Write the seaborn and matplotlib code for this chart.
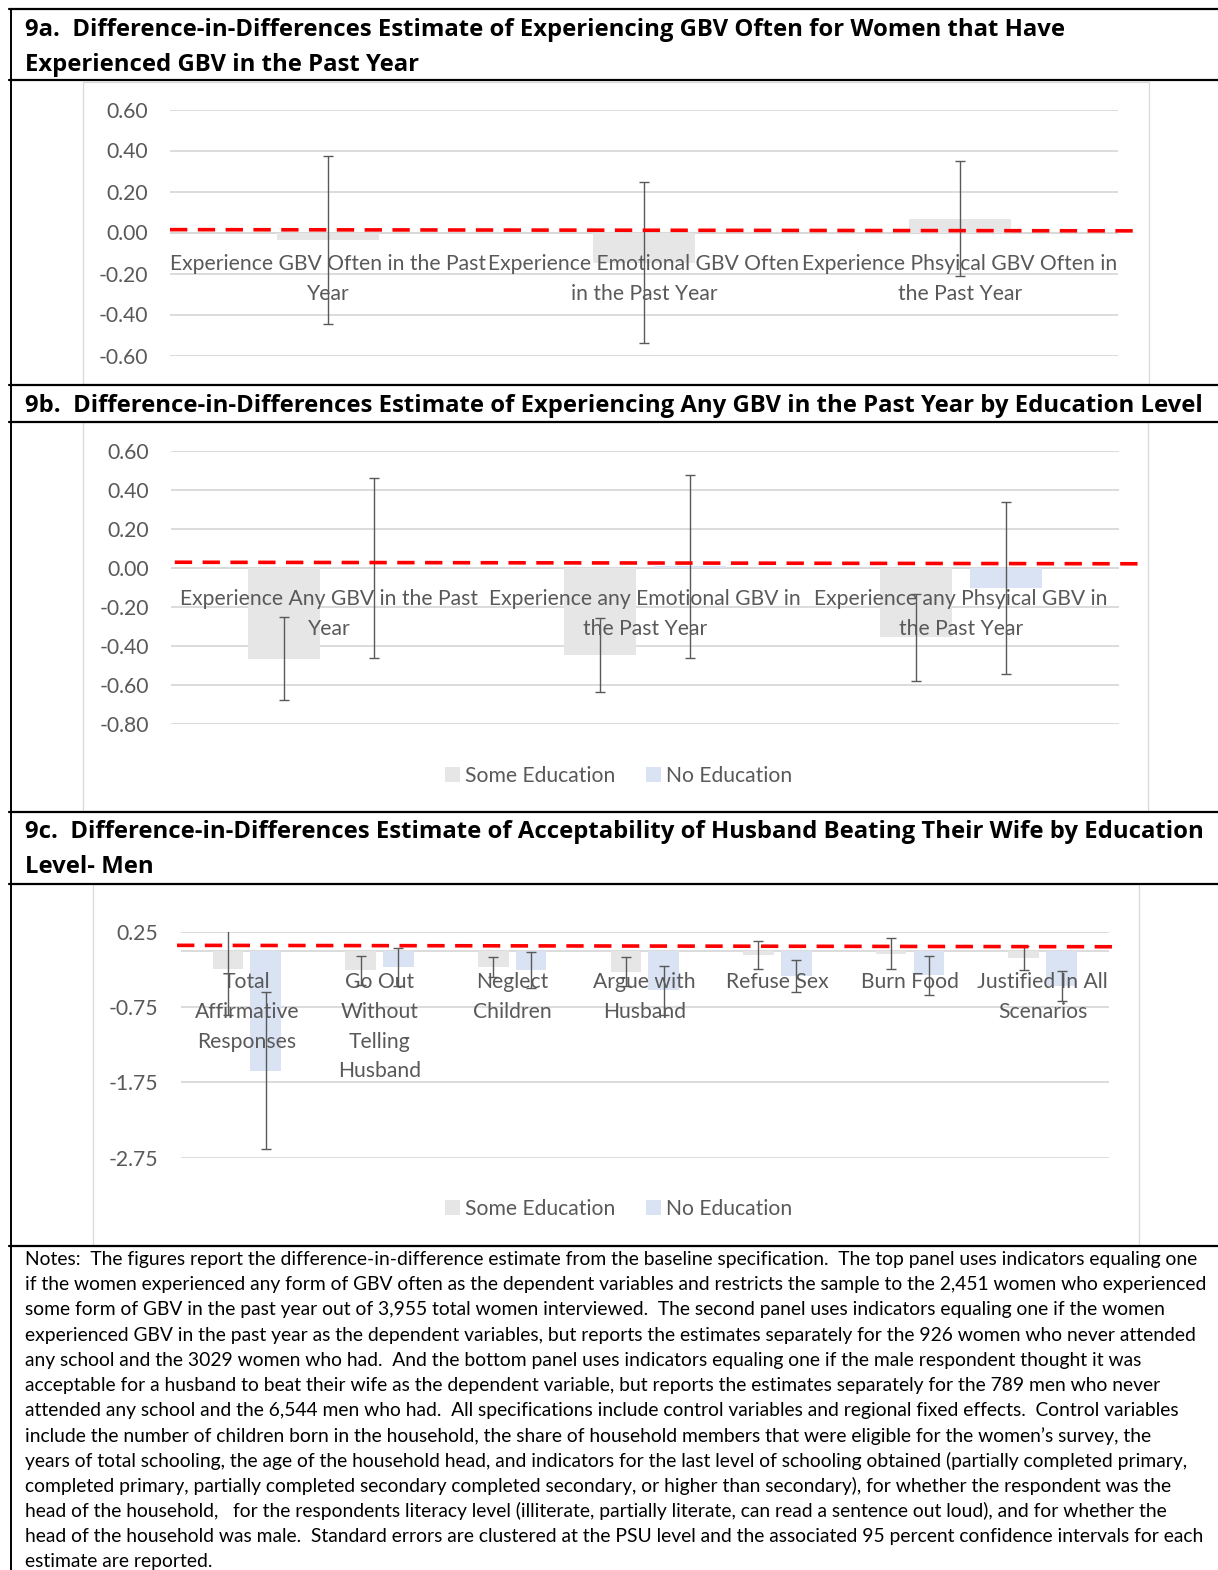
import numpy as np
import pandas as pd
import matplotlib
matplotlib.use("Agg")
import matplotlib.pyplot as plt
from matplotlib.patches import Rectangle
from matplotlib.lines import Line2D
import seaborn as sns

# ---------------------------------------------------------------- data
edu_levels = ["Some Education", "No Education"]

# 9a: GBV often, women who experienced GBV in the past year
cats_a = ["Experience GBV Often in the Past\nYear",
          "Experience Emotional GBV Often\nin the Past Year",
          "Experience Phsyical GBV Often in\nthe Past Year"]
est_a = [-0.036, -0.147, 0.068]
lo_a = [-0.445, -0.539, -0.212]
hi_a = [0.372, 0.245, 0.347]
ref_a_x = [-0.5, 2.554]
ref_a_y = [0.014, 0.008]

# 9b: any GBV in the past year by education level
cats_b = ["Experience Any GBV in the Past\nYear",
          "Experience any Emotional GBV in\nthe Past Year",
          "Experience any Phsyical GBV in\nthe Past Year"]
some_b = [-0.467, -0.449, -0.358]
some_lo_b = [-0.678, -0.636, -0.580]
some_hi_b = [-0.256, -0.260, -0.134]
none_b = [-0.002, 0.006, -0.104]
none_lo_b = [-0.462, -0.466, -0.546]
none_hi_b = [0.458, 0.474, 0.338]
ref_b_x = [-0.488, 2.568]
ref_b_y = [0.027, 0.019]

# 9c: acceptability of wife beating by education level, men
cats_c = ["Total\nAffirmative\nResponses", "Go Out\nWithout\nTelling\nHusband",
          "Neglect\nChildren", "Argue with\nHusband", "Refuse Sex", "Burn Food",
          "Justified In All\nScenarios"]
some_c = [-0.245, -0.260, -0.223, -0.280, -0.065, -0.045, -0.100]
some_lo_c = [-0.856, -0.458, -0.356, -0.471, -0.250, -0.250, -0.259]
some_hi_c = [0.370, -0.066, -0.090, -0.086, 0.126, 0.162, 0.064]
none_c = [-1.600, -0.220, -0.260, -0.528, -0.337, -0.330, -0.471]
none_lo_c = [-2.640, -0.471, -0.500, -0.856, -0.547, -0.587, -0.666]
none_hi_c = [-0.555, 0.033, -0.020, -0.200, -0.126, -0.073, -0.276]
ref_c_x = [-0.526, 6.58]
ref_c_y = [0.069, 0.050]

ticks_a = [0.6, 0.4, 0.2, 0.0, -0.2, -0.4, -0.6]
ticklabels_a = ["0.60", "0.40", "0.20", "0.00", "-0.20", "-0.40", "-0.60"]
ticks_b = [0.6, 0.4, 0.2, 0.0, -0.2, -0.4, -0.6, -0.8]
ticklabels_b = ["0.60", "0.40", "0.20", "0.00", "-0.20", "-0.40", "-0.60", "-0.80"]
ticks_c = [0.25, -0.75, -1.75, -2.75]
ticklabels_c = ["0.25", "-0.75", "-1.75", "-2.75"]

title_a = ["9a.  Difference-in-Differences Estimate of Experiencing GBV Often for Women that Have",
           "Experienced GBV in the Past Year"]
title_b = ["9b.  Difference-in-Differences Estimate of Experiencing Any GBV in the Past Year by Education Level"]
title_c = ["9c.  Difference-in-Differences Estimate of Acceptability of Husband Beating Their Wife by Education",
           "Level- Men"]

notes = [
    "Notes:  The figures report the difference-in-difference estimate from the baseline specification.  The top panel uses indicators equaling one",
    "if the women experienced any form of GBV often as the dependent variables and restricts the sample to the 2,451 women who experienced",
    "some form of GBV in the past year out of 3,955 total women interviewed.  The second panel uses indicators equaling one if the women",
    "experienced GBV in the past year as the dependent variables, but reports the estimates separately for the 926 women who never attended",
    "any school and the 3029 women who had.  And the bottom panel uses indicators equaling one if the male respondent thought it was",
    "acceptable for a husband to beat their wife as the dependent variable, but reports the estimates separately for the 789 men who never",
    "attended any school and the 6,544 men who had.  All specifications include control variables and regional fixed effects.  Control variables",
    "include the number of children born in the household, the share of household members that were eligible for the women\u2019s survey, the",
    "years of total schooling, the age of the household head, and indicators for the last level of schooling obtained (partially completed primary,",
    "completed primary, partially completed secondary completed secondary, or higher than secondary), for whether the respondent was the",
    "head of the household,   for the respondents literacy level (illiterate, partially literate, can read a sentence out loud), and for whether the",
    "head of the household was male.  Standard errors are clustered at the PSU level and the associated 95 percent confidence intervals for each",
    "estimate are reported.",
]

# ---------------------------------------------------------------- style
W, H = 1218, 1570
sns.set_theme(style="white")
plt.rcParams["font.family"] = ["Lato", "DejaVu Sans"]
plt.rcParams["axes.unicode_minus"] = False

GRAY_BAR = "#E7E6E6"
BLUE_BAR = "#DAE3F3"
TXT = "#595959"
GRID = "#D9D9D9"
RED = "#FF0000"
LABEL_FS = 15.2
TITLE_FS = 17.2
TITLE_FONT = ["Open Sans", "Lato", "DejaVu Sans"]
NOTE_FS = 13.9

fig = plt.figure(figsize=(W / 100, H / 100), dpi=100)


def fx(x):
    return x / W


def fy(y):
    return 1 - y / H


def rect(x0, y0, x1, y1):
    return [fx(x0), fy(y1), (x1 - x0) / W, (y1 - y0) / H]


def hline(y, x0=9, x1=W):
    fig.add_artist(Line2D([fx(x0), fx(x1)], [fy(y), fy(y)], color="black", lw=1.6))


def chart_box(x0, y0, x1, y1):
    fig.add_artist(Rectangle((fx(x0), fy(y1)), (x1 - x0) / W, (y1 - y0) / H,
                             transform=fig.transFigure, facecolor="none",
                             edgecolor=GRID, lw=0.9))


def style_axes(ax, ncat, ticks, ticklabels, ylim):
    ax.set_xlim(-0.5, ncat - 0.5)
    ax.set_ylim(*ylim)
    ax.set_yticks(ticks)
    ax.set_yticklabels(ticklabels)
    ax.set_xticks([])
    ax.set_xlabel("")
    ax.set_ylabel("")
    ax.tick_params(axis="y", length=0, pad=16, labelsize=LABEL_FS, labelcolor=TXT)
    ax.grid(axis="y", color=GRID, lw=1.3)
    ax.set_axisbelow(True)
    ax.axhline(0, color=GRID, lw=1.3, zorder=0.6)
    for s in ax.spines.values():
        s.set_visible(False)
    ax.patch.set_alpha(0)


def cat_labels(ax, cats, pad):
    for i, lab in enumerate(cats):
        ax.annotate(lab, xy=(i, 0), xytext=(0, -pad), textcoords="offset points",
                    ha="center", va="top", fontsize=LABEL_FS, color=TXT,
                    linespacing=1.61, zorder=2, annotation_clip=False)


def add_errorbars(ax, container, est, lo, hi):
    xs = [p.get_x() + p.get_width() / 2 for p in container]
    est = np.asarray(est)
    yerr = [est - np.asarray(lo), np.asarray(hi) - est]
    ax.errorbar(xs, est, yerr=yerr, fmt="none", ecolor=TXT,
                elinewidth=1.0, capsize=3.6, capthick=1.0, zorder=3)


def ref_line(ax, xs, ys):
    ax.plot(xs, ys, color=RED, lw=2.6, dashes=(4.8, 2.9), clip_on=False,
            solid_capstyle="butt", zorder=4)


def edu_legend(y):
    handles = [Rectangle((0, 0), 1, 1, facecolor=GRAY_BAR, edgecolor="none"),
               Rectangle((0, 0), 1, 1, facecolor=BLUE_BAR, edgecolor="none")]
    fig.legend(handles, edu_levels, loc="center", bbox_to_anchor=(fx(619), fy(y)),
               ncol=2, frameon=False, fontsize=LABEL_FS, labelcolor=TXT,
               handlelength=0.7, handleheight=0.7, handletextpad=0.25,
               columnspacing=1.45, borderpad=0)


def panel_title(lines, y0):
    for k, line in enumerate(lines):
        fig.text(fx(25), fy(y0 + 35 * k), line, fontsize=TITLE_FS, fontweight="bold",
                 family=TITLE_FONT, va="center", ha="left", color="black")


# ---------------------------------------------------------------- document frame
for y in (9, 80, 384.5, 421.5, 812, 884, 1246):
    hline(y)
fig.add_artist(Line2D([fx(10.5), fx(10.5)], [fy(9), fy(H)], color="black", lw=1.4))

chart_box(83, 82, 1149, 384)
chart_box(83, 422, 1148, 811)
chart_box(93, 884, 1139, 1246)

panel_title(title_a, 30)
panel_title(title_b, 406)
panel_title(title_c, 832)

for k, line in enumerate(notes):
    fig.text(fx(25), fy(1259.5 + 25.18 * k), line, fontsize=NOTE_FS,
             va="center", ha="left", color="black")

# ---------------------------------------------------------------- panel 9a
ax_a = fig.add_axes(rect(170, 109.5, 1118, 355.5))
df_a = pd.DataFrame({"cat": cats_a, "est": est_a})
sns.barplot(data=df_a, x="cat", y="est", color=GRAY_BAR, saturation=1,
            width=0.32, errorbar=None, linewidth=0, zorder=1, ax=ax_a)
style_axes(ax_a, len(cats_a), ticks_a, ticklabels_a, (-0.6, 0.6))
add_errorbars(ax_a, ax_a.containers[0], est_a, lo_a, hi_a)
cat_labels(ax_a, cats_a, 15.5)
ref_line(ax_a, ref_a_x, ref_a_y)

# ---------------------------------------------------------------- panel 9b
ax_b = fig.add_axes(rect(171, 450.5, 1119, 723.5))
df_b = pd.DataFrame({
    "cat": cats_b * 2,
    "edu": [edu_levels[0]] * len(cats_b) + [edu_levels[1]] * len(cats_b),
    "est": some_b + none_b,
})
sns.barplot(data=df_b, x="cat", y="est", hue="edu", hue_order=edu_levels,
            palette=[GRAY_BAR, BLUE_BAR], saturation=1, width=0.57, gap=0.2,
            errorbar=None, linewidth=0, legend=False, zorder=1, ax=ax_b)
style_axes(ax_b, len(cats_b), ticks_b, ticklabels_b, (-0.8, 0.6))
add_errorbars(ax_b, ax_b.containers[0], some_b, some_lo_b, some_hi_b)
add_errorbars(ax_b, ax_b.containers[1], none_b, none_lo_b, none_hi_b)
cat_labels(ax_b, cats_b, 15.5)
ref_line(ax_b, ref_b_x, ref_b_y)
edu_legend(776)

# ---------------------------------------------------------------- panel 9c
ax_c = fig.add_axes(rect(180.5, 931.7, 1109, 1157.7))
df_c = pd.DataFrame({
    "cat": cats_c * 2,
    "edu": [edu_levels[0]] * len(cats_c) + [edu_levels[1]] * len(cats_c),
    "est": some_c + none_c,
})
sns.barplot(data=df_c, x="cat", y="est", hue="edu", hue_order=edu_levels,
            palette=[GRAY_BAR, BLUE_BAR], saturation=1, width=0.57, gap=0.19,
            errorbar=None, linewidth=0, legend=False, zorder=1, ax=ax_c)
style_axes(ax_c, len(cats_c), ticks_c, ticklabels_c, (-2.75, 0.25))
add_errorbars(ax_c, ax_c.containers[0], some_c, some_lo_c, some_hi_c)
add_errorbars(ax_c, ax_c.containers[1], none_c, none_lo_c, none_hi_c)
cat_labels(ax_c, cats_c, 15.5)
ref_line(ax_c, ref_c_x, ref_c_y)
edu_legend(1209)

fig.savefig("out.png", dpi=100)
